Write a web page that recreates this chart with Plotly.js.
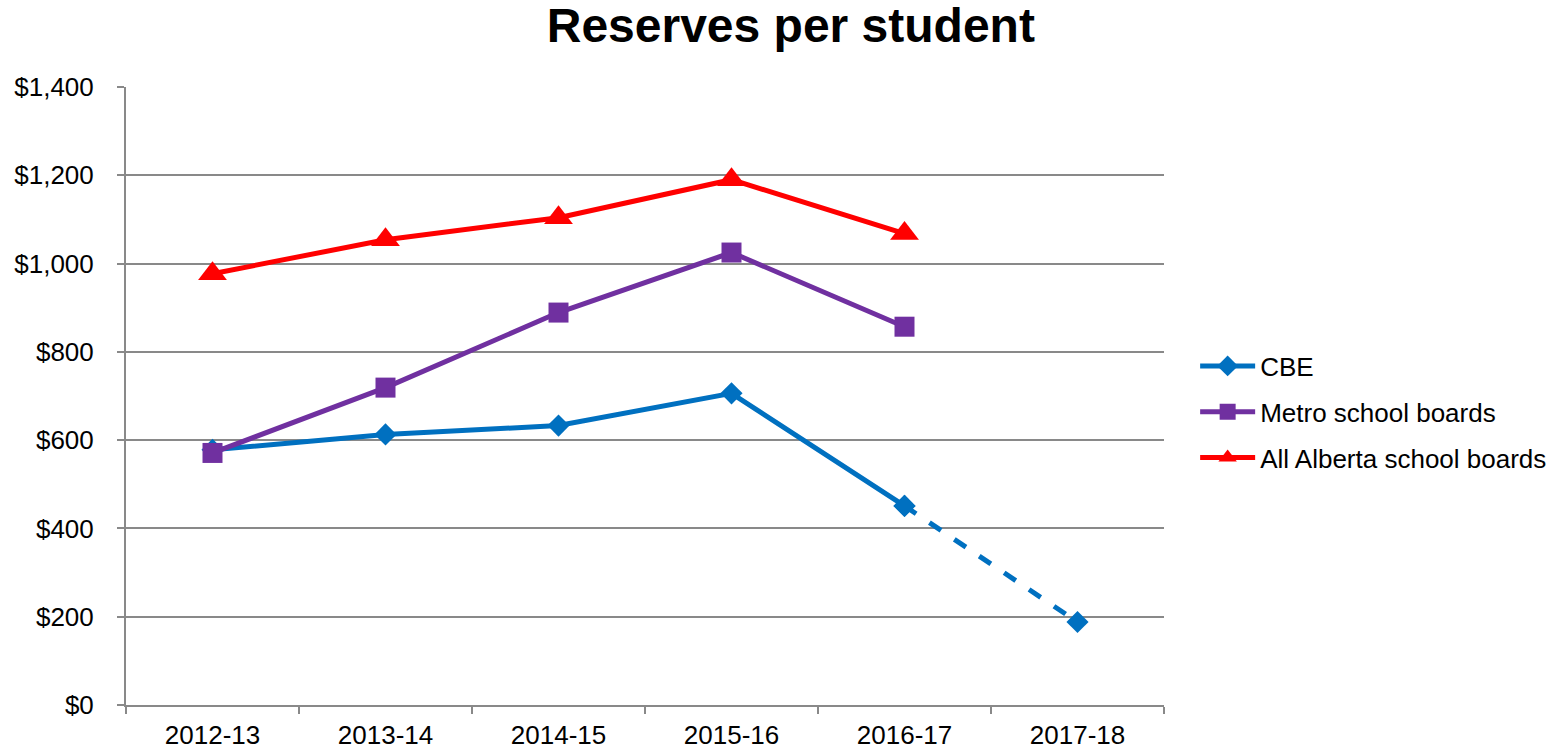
<!DOCTYPE html>
<html><head><meta charset="utf-8">
<script src="https://cdn.plot.ly/plotly-3.0.1.min.js"></script>
<style>body{margin:0;background:#fff}#c{width:1566px;height:749px}</style>
</head><body><div id="c"></div>
<script>
const years = ["2012-13","2013-14","2014-15","2015-16","2016-17","2017-18"];
const cbe = [578, 613, 633, 706, 451, null];
const cbeProjYears = ["2016-17","2017-18"];
const cbeProj = [451, 188];
const metro = [571, 719, 889, 1025, 857, null];
const alberta = [977, 1054, 1104, 1190, 1068, null];
const yTicks = [0,200,400,600,800,1000,1200,1400];
const yTickText = ["$0","$200","$400","$600","$800","$1,000","$1,200","$1,400"];

const BLUE="#0070C0", PURPLE="#7030A0", RED="#FF0000";
const traces = [
  {x: years, y: cbe, name:"CBE", mode:"lines+markers", legendgroup:"a",
   line:{color:BLUE,width:5}, marker:{symbol:"diamond",size:17,color:BLUE}},
  {x: cbeProjYears, y: cbeProj, mode:"lines+markers", showlegend:false, legendgroup:"a",
   line:{color:BLUE,width:5,dash:"14px,16px"}, marker:{symbol:"diamond",size:17,color:BLUE}},
  {x: years, y: metro, name:"Metro school boards", mode:"lines+markers", legendgroup:"b",
   line:{color:PURPLE,width:5}, marker:{symbol:"square",size:20,color:PURPLE}},
  {x: years, y: alberta, name:"All Alberta school boards", mode:"lines+markers", legendgroup:"c",
   line:{color:RED,width:5}, marker:{symbol:"triangle-up",size:25,color:RED}}
];
const layout = {
  width:1566, height:749,
  margin:{l:126, r:402, t:87, b:44},
  paper_bgcolor:"#fff", plot_bgcolor:"#fff",
  font:{family:"Liberation Sans, Arial, sans-serif", size:26, color:"#000"},
  title:{text:"<b>Reserves per student</b>", font:{size:48, color:"#000"}, x:0.505, xref:"container", xanchor:"center", y:0.966, yref:"container", yanchor:"middle"},
  showlegend:true,
  legend:{x:1.03, xanchor:"left", y:0.474, yanchor:"middle", font:{size:26}, itemwidth:55, tracegroupgap:9, traceorder:"grouped"},
  xaxis:{type:"category", categoryorder:"array", categoryarray:years, range:[-0.5,5.5],
    tickson:"boundaries", ticks:"outside", ticklen:7, tickcolor:"#898989", tickwidth:2,
    showgrid:false, showline:true, linecolor:"#898989", linewidth:2, zeroline:false,
    tickfont:{size:26}, ticklabelstandoff:6, fixedrange:true},
  yaxis:{range:[0,1400], tickvals:yTicks, ticktext:yTickText, ticks:"outside", ticklen:7,
    tickcolor:"#898989", tickwidth:2, showgrid:true, gridcolor:"#898989", gridwidth:2,
    showline:true, linecolor:"#898989", linewidth:2, zeroline:false, tickfont:{size:26},
    ticklabelstandoff:18, fixedrange:true},
  hovermode:false
};
Plotly.newPlot("c", traces, layout, {displayModeBar:false, staticPlot:true});
</script></body></html>
